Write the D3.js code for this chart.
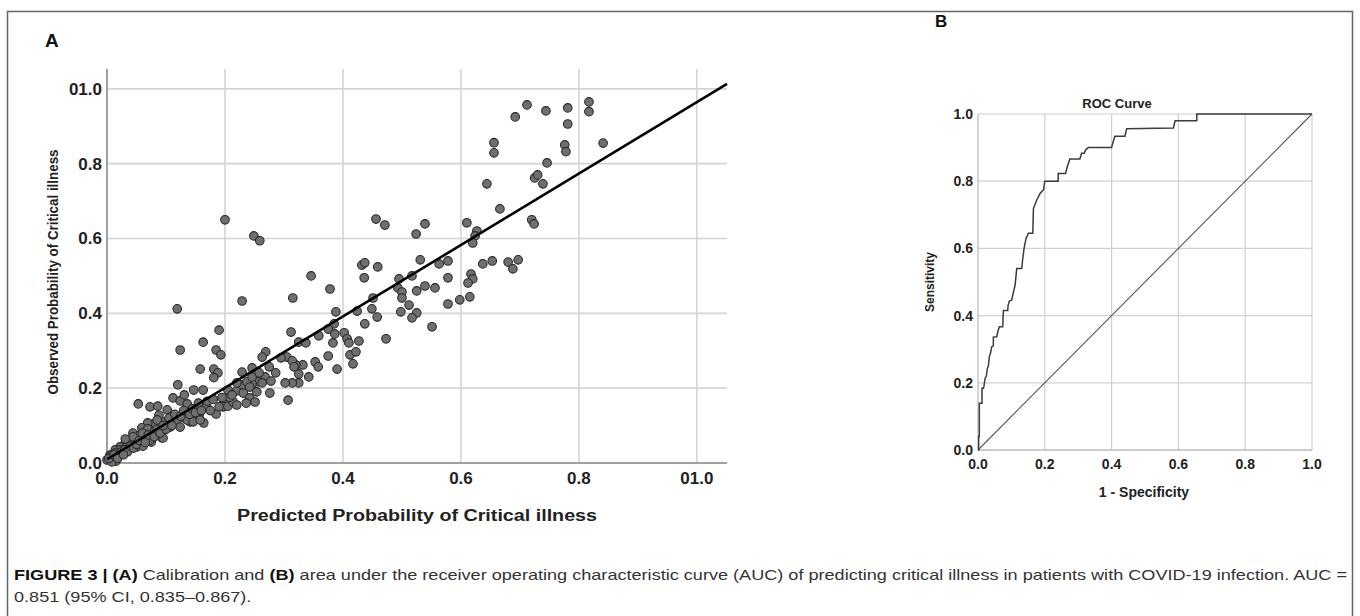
<!DOCTYPE html>
<html><head><meta charset="utf-8">
<script src="https://cdn.jsdelivr.net/npm/d3@7"></script>
<style>
body{margin:0;background:#fff}
svg{display:block}
text{font-family:"Liberation Sans",Arial,Helvetica,sans-serif}
</style>
</head><body>
<svg id="chart" width="1360" height="616"></svg>
<script>
// ---------- Panel A: calibration data ----------
const calX = [
0.200,0.249,0.259,0.456,0.471,0.432,0.437,0.459,0.524,0.539,0.610,0.627,0.624,0.620,0.644,0.656,0.656,0.666,0.692,0.712,
0.744,0.781,0.781,0.776,0.778,0.817,0.817,0.841,0.746,0.725,0.730,0.739,0.720,0.724,0.531,0.563,0.578,0.637,0.653,0.680,
0.697,0.688,0.617,0.620,0.612,0.615,0.598,0.578,0.578,0.556,0.539,0.525,0.517,0.495,0.493,0.500,0.500,0.512,0.525,0.498,
0.517,0.551,0.473,
0.346,0.378,0.315,0.436,0.451,0.449,0.458,0.437,0.424,0.388,0.385,0.375,0.359,0.312,0.325,0.337,0.386,0.383,0.402,0.407,
0.410,0.427,0.412,0.422,0.417,0.375,0.390,0.353,0.358,0.342,0.332,0.320,0.325,0.325,0.314,0.302,0.305,0.295,0.314,0.317,
0.286,0.275,0.269,0.263,0.268,0.278,0.256,0.246,0.246,0.276,0.307,
0.119,0.124,0.229,0.163,0.158,0.190,0.185,0.193,0.181,0.188,0.181,0.120,0.053,0.073,0.086,0.088,0.102,0.112,0.124,0.131,
0.136,0.147,0.163,0.169,0.185,0.164,0.141,0.132,0.119,0.107,0.093,0.078,0.069,0.073,0.093,0.075,0.059,0.044,0.039,0.031,
0.022,0.014,0.005,0.198,0.197,0.205,0.214,0.208,0.220,0.229,0.237,0.242,
0.205,0.212,0.220,0.220,0.229,0.246,0.231,0.242,0.251,0.236,0.254,0.263,0.258,
0.136,0.156,0.141,0.129,0.108,0.098,0.085,0.059,0.069,0.081,0.093,0.107,0.124,0.136,0.146,0.158,0.095,0.073,0.061,0.051,
0.042,0.034,0.022,0.014,0.005,0.000,0.051,0.061,0.056,0.044,0.031,
0.010,0.020,0.015,0.025,0.030,0.035,0.040,0.045,0.008,0.003,0.012,0.018,0.028,0.050,0.055,0.065,0.060,0.070,0.080,0.085,
0.090,0.100,0.095,0.105,0.110,0.115,0.125,0.130,0.140,0.145,0.150,0.155,0.160,0.170,0.175,0.180,0.190,0.195
];
const calY = [
0.650,0.607,0.594,0.652,0.636,0.529,0.535,0.524,0.612,0.639,0.642,0.620,0.607,0.588,0.746,0.856,0.829,0.679,0.925,0.957,
0.941,0.949,0.906,0.850,0.832,0.965,0.939,0.855,0.802,0.762,0.770,0.746,0.650,0.639,0.543,0.532,0.540,0.532,0.540,0.537,
0.543,0.519,0.505,0.492,0.481,0.444,0.436,0.425,0.495,0.468,0.473,0.460,0.500,0.492,0.468,0.457,0.441,0.422,0.401,0.404,
0.388,0.364,0.332,
0.500,0.465,0.441,0.495,0.441,0.412,0.390,0.372,0.406,0.404,0.372,0.358,0.340,0.350,0.323,0.321,0.345,0.321,0.348,0.332,
0.321,0.326,0.289,0.297,0.265,0.286,0.251,0.270,0.257,0.230,0.262,0.262,0.238,0.214,0.214,0.214,0.283,0.281,0.273,0.257,
0.241,0.257,0.297,0.283,0.230,0.219,0.217,0.254,0.211,0.187,0.168,
0.412,0.302,0.433,0.323,0.251,0.355,0.302,0.289,0.251,0.241,0.228,0.209,0.158,0.150,0.152,0.128,0.142,0.174,0.166,0.182,
0.152,0.195,0.195,0.152,0.131,0.107,0.110,0.120,0.115,0.107,0.104,0.104,0.107,0.088,0.067,0.056,0.070,0.080,0.061,0.053,
0.043,0.035,0.021,0.163,0.150,0.152,0.163,0.176,0.193,0.209,0.217,0.203,
0.195,0.182,0.155,0.214,0.243,0.230,0.187,0.174,0.163,0.160,0.190,0.214,0.241,
0.158,0.128,0.123,0.126,0.123,0.110,0.115,0.094,0.091,0.086,0.088,0.096,0.096,0.115,0.110,0.115,0.067,0.061,0.070,0.061,
0.053,0.043,0.035,0.027,0.016,0.008,0.043,0.045,0.075,0.070,0.064,
0.010,0.020,0.005,0.030,0.035,0.030,0.045,0.040,0.003,0.012,0.022,0.012,0.022,0.050,0.060,0.055,0.080,0.075,0.070,0.090,
0.080,0.090,0.100,0.120,0.100,0.130,0.125,0.140,0.130,0.145,0.135,0.160,0.140,0.165,0.140,0.170,0.150,0.175
];
const fitX = [0, 1.051];
const fitY = [0.010, 1.013];
const calTicks = [0, 0.2, 0.4, 0.6, 0.8, 1.0];
const calTickLabels = ["0.0", "0.2", "0.4", "0.6", "0.8", "01.0"];

// ---------- Panel B: ROC data ----------
const rocFpr = [0,0.002,0.002,0.004,0.004,0.012,0.012,0.016,0.018,0.021,0.025,0.028,0.031,0.034,0.038,0.041,0.046,0.046,0.056,0.060,
0.064,0.074,0.076,0.089,0.090,0.094,0.101,0.106,0.111,0.116,0.131,0.134,0.138,0.144,0.151,0.164,0.166,0.176,0.186,0.196,
0.200,0.240,0.240,0.262,0.268,0.275,0.305,0.310,0.318,0.322,0.330,0.400,0.404,0.410,0.440,0.445,0.585,0.590,0.655,0.655,1.0];
const rocTpr = [0,0,0.040,0.040,0.139,0.139,0.184,0.184,0.190,0.213,0.220,0.243,0.250,0.278,0.290,0.307,0.310,0.336,0.337,0.355,
0.367,0.367,0.415,0.415,0.430,0.443,0.446,0.470,0.490,0.540,0.540,0.570,0.600,0.630,0.645,0.645,0.719,0.744,0.764,0.774,
0.800,0.800,0.823,0.823,0.845,0.866,0.866,0.883,0.883,0.893,0.900,0.900,0.915,0.934,0.934,0.956,0.958,0.980,0.980,1.0,1.0];
const refX = [0, 1];
const refY = [0, 1];
const rocTicks = [0, 0.2, 0.4, 0.6, 0.8, 1.0];
const rocTickLabels = ["0.0", "0.2", "0.4", "0.6", "0.8", "1.0"];

const captionBold1 = "FIGURE 3 | (A)";
const captionText1 = " Calibration and ";
const captionBold2 = "(B)";
const captionText2 = " area under the receiver operating characteristic curve (AUC) of predicting critical illness in patients with COVID-19 infection. AUC =";
const captionLine2 = "0.851 (95% CI, 0.835\u20130.867).";

// ---------- drawing ----------
const svg = d3.select("#chart");
svg.append("rect").attr("width",1360).attr("height",616).attr("fill","#fff");

// outer frame
svg.append("path").attr("d","M7.5,616 V11.5 H1352.5 V616")
  .attr("fill","none").attr("stroke","#666").attr("stroke-width",1.5);

// ---- Panel A ----
const xA = d3.scaleLinear().domain([0, 1.051]).range([107, 727]);
const yA = d3.scaleLinear().domain([0, 1.053]).range([463, 69]);
const gA = svg.append("g");

gA.selectAll("line.vg").data(calTicks.slice(1)).join("line")
  .attr("x1", d=>xA(d)).attr("x2", d=>xA(d)).attr("y1", yA(1.053)).attr("y2", yA(0))
  .attr("stroke","#d4d4d4").attr("stroke-width",1.6);
gA.selectAll("line.hg").data(calTicks.slice(1)).join("line")
  .attr("x1", xA(0)).attr("x2", xA(1.051)).attr("y1", d=>yA(d)).attr("y2", d=>yA(d))
  .attr("stroke","#d4d4d4").attr("stroke-width",1.6);
gA.append("line").attr("x1",xA(0)).attr("x2",xA(0)).attr("y1",yA(1.053)).attr("y2",yA(0))
  .attr("stroke","#a0a0a0").attr("stroke-width",2);
gA.append("line").attr("x1",xA(0)).attr("x2",xA(1.051)).attr("y1",yA(0)).attr("y2",yA(0))
  .attr("stroke","#a0a0a0").attr("stroke-width",2);

const calData = calX.map((x,i)=>({x, y: calY[i]}));
gA.selectAll("circle").data(calData).join("circle")
  .attr("cx", d=>xA(d.x)).attr("cy", d=>yA(d.y)).attr("r", 4.3)
  .attr("fill","#6f6f6f").attr("stroke","#2a2a2a").attr("stroke-width",1.1);

gA.append("path").datum(fitX.map((x,i)=>[x, fitY[i]]))
  .attr("d", d3.line().x(d=>xA(d[0])).y(d=>yA(d[1])))
  .attr("fill","none").attr("stroke","#000").attr("stroke-width",2.6);

gA.selectAll("text.yt").data(calTicks).join("text")
  .attr("x", 102).attr("y", d=>yA(d)+6).attr("text-anchor","end")
  .attr("font-size",17).attr("font-weight","bold").attr("fill","#222")
  .text((d,i)=>calTickLabels[i]);
gA.selectAll("text.xt").data(calTicks).join("text")
  .attr("x", d=>xA(d)).attr("y", 484).attr("text-anchor","middle")
  .attr("font-size",17).attr("font-weight","bold").attr("fill","#222")
  .text((d,i)=>calTickLabels[i]);

gA.append("text").attr("x", 417).attr("y", 521).attr("text-anchor","middle")
  .attr("font-size",16).attr("font-weight","bold").attr("fill","#222")
  .attr("textLength",360).attr("lengthAdjust","spacingAndGlyphs")
  .text("Predicted Probability of Critical illness");
gA.append("text").attr("transform","translate(58,272) rotate(-90)").attr("text-anchor","middle")
  .attr("font-size",15).attr("font-weight","bold").attr("fill","#222")
  .attr("textLength",245).attr("lengthAdjust","spacingAndGlyphs")
  .text("Observed Probability of Critical illness");

svg.append("text").attr("x",45).attr("y",47).attr("font-size",19).attr("font-weight","bold")
  .attr("fill","#111").text("A");

// ---- Panel B ----
const xB = d3.scaleLinear().domain([0,1]).range([978,1312]);
const yB = d3.scaleLinear().domain([0,1]).range([450,114]);
const gB = svg.append("g");
gB.selectAll("line.vg").data(rocTicks.slice(1)).join("line")
  .attr("x1", d=>xB(d)).attr("x2", d=>xB(d)).attr("y1", yB(1)).attr("y2", yB(0))
  .attr("stroke","#d0d0d0").attr("stroke-width",1.2);
gB.selectAll("line.hg").data(rocTicks.slice(1)).join("line")
  .attr("x1", xB(0)).attr("x2", xB(1)).attr("y1", d=>yB(d)).attr("y2", d=>yB(d))
  .attr("stroke","#d0d0d0").attr("stroke-width",1.2);
gB.append("line").attr("x1",xB(0)).attr("x2",xB(0)).attr("y1",yB(1)).attr("y2",yB(0))
  .attr("stroke","#bbb").attr("stroke-width",1.3);
gB.append("line").attr("x1",xB(0)).attr("x2",xB(1)).attr("y1",yB(0)).attr("y2",yB(0))
  .attr("stroke","#bbb").attr("stroke-width",1.3);

gB.append("path").datum(refX.map((x,i)=>[x, refY[i]]))
  .attr("d", d3.line().x(d=>xB(d[0])).y(d=>yB(d[1])))
  .attr("fill","none").attr("stroke","#555").attr("stroke-width",1.1);
gB.append("path").datum(rocFpr.map((x,i)=>[x, rocTpr[i]]))
  .attr("d", d3.line().x(d=>xB(d[0])).y(d=>yB(d[1])))
  .attr("fill","none").attr("stroke","#3c3c3c").attr("stroke-width",1.5);

gB.selectAll("text.yt").data(rocTicks).join("text")
  .attr("x", 973).attr("y", d=>yB(d)+5).attr("text-anchor","end")
  .attr("font-size",14).attr("font-weight","bold").attr("fill","#222")
  .text((d,i)=>rocTickLabels[i]);
gB.selectAll("text.xt").data(rocTicks).join("text")
  .attr("x", d=>xB(d)).attr("y", 469).attr("text-anchor","middle")
  .attr("font-size",14).attr("font-weight","bold").attr("fill","#222")
  .text((d,i)=>rocTickLabels[i]);
gB.append("text").attr("x",1144).attr("y",497).attr("text-anchor","middle")
  .attr("font-size",14).attr("font-weight","bold").attr("fill","#222").text("1 - Specificity");
gB.append("text").attr("transform","translate(934,282) rotate(-90)").attr("text-anchor","middle")
  .attr("font-size",12).attr("font-weight","bold").attr("fill","#222").text("Sensitivity");
gB.append("text").attr("x",1117).attr("y",108).attr("text-anchor","middle")
  .attr("font-size",13).attr("font-weight","bold").attr("fill","#222").text("ROC Curve");

svg.append("text").attr("x",935).attr("y",27).attr("font-size",17).attr("font-weight","bold")
  .attr("fill","#111").text("B");

// ---- caption ----
const cap1 = svg.append("text").attr("x",14).attr("y",580).attr("font-size",15).attr("fill","#333");
cap1.append("tspan").attr("font-weight","bold").attr("fill","#111").text(captionBold1);
cap1.append("tspan").text(captionText1);
cap1.append("tspan").attr("font-weight","bold").attr("fill","#111").text(captionBold2);
cap1.append("tspan").text(captionText2);
const nat1 = cap1.node().getComputedTextLength();
const ratio = 1333 / nat1;
cap1.attr("textLength",1333).attr("lengthAdjust","spacingAndGlyphs");
const cap2 = svg.append("text").attr("x",14).attr("y",602).attr("font-size",15).attr("fill","#333")
  .text(captionLine2);
const nat2 = cap2.node().getComputedTextLength();
cap2.attr("textLength", nat2*ratio).attr("lengthAdjust","spacingAndGlyphs");
</script>
</body></html>
